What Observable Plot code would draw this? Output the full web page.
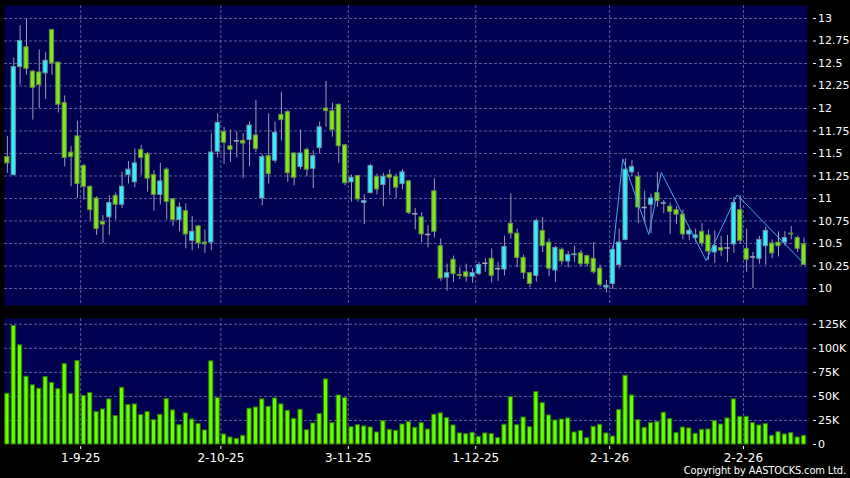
<!DOCTYPE html>
<html><head><meta charset="utf-8">
<script src="https://cdn.jsdelivr.net/npm/d3@7"></script>
<script src="https://cdn.jsdelivr.net/npm/@observablehq/plot@0.6"></script>
<style>
html,body{margin:0;padding:0;background:#000;}
#wrap{position:relative;width:850px;height:478px;background:#000;overflow:hidden;font-family:"DejaVu Sans",sans-serif;}
#top{position:absolute;left:0;top:0;}
#bot{position:absolute;left:0;top:310px;}
#copy{position:absolute;right:4px;top:465px;color:#fff;font-size:11px;line-height:12px;font-family:"DejaVu Sans Condensed","DejaVu Sans",sans-serif;white-space:nowrap;letter-spacing:-0.15px;}
</style></head><body>
<div id="wrap"><div id="top"></div><div id="bot"></div><div id="copy">Copyright by AASTOCKS.com Ltd.</div></div>
<script>
const opens = [11.46,11.26,12.46,12.68,12.41,12.40,12.39,12.87,12.51,12.06,
11.51,11.69,11.36,11.13,11.00,10.74,10.79,11.03,10.93,11.26,
11.18,11.54,11.49,11.26,11.04,11.32,10.99,10.76,10.86,10.53,
10.69,10.51,10.51,11.52,11.74,11.58,11.64,11.64,11.65,11.70,
11.00,11.47,11.42,11.93,11.96,11.50,11.35,11.54,11.33,11.56,
12.00,11.97,12.04,11.59,11.18,11.25,10.95,11.06,11.24,11.15,
11.26,11.24,11.16,11.19,10.83,10.79,10.60,11.08,10.47,10.12,
10.32,10.15,10.18,10.13,10.16,10.28,10.33,10.22,10.21,10.72,
10.61,10.34,10.17,10.14,10.64,10.51,10.20,10.43,10.30,10.37,
10.39,10.36,10.33,10.22,10.01,10.05,10.26,10.54,11.29,11.24,
10.90,10.93,11.06,10.94,10.91,10.87,10.82,10.60,10.56,10.63,
10.59,10.40,10.45,10.45,10.49,10.87,10.44,10.35,10.33,10.47,
10.50,10.51,10.51,10.61,10.56,10.49];
const highs = [11.69,12.56,12.92,12.99,12.42,12.65,12.62,12.88,12.51,12.14,
11.58,11.86,11.38,11.14,11.02,10.81,11.03,11.06,11.29,11.41,
11.55,11.59,11.51,11.31,11.39,11.34,11.00,10.95,10.94,10.80,
10.70,10.65,11.72,11.94,11.79,11.76,11.74,11.72,11.85,12.09,
11.49,11.94,11.85,12.18,11.98,11.51,11.76,11.56,11.53,11.85,
12.30,12.06,12.05,11.60,11.26,11.26,11.04,11.38,11.27,11.28,
11.32,11.27,11.32,11.20,10.89,10.84,10.70,11.22,10.55,10.27,
10.36,10.23,10.27,10.22,10.29,10.33,10.44,10.29,10.58,11.05,
10.66,10.37,10.18,10.77,10.79,10.55,10.47,10.45,10.41,10.47,
10.42,10.37,10.51,10.26,10.09,10.47,10.66,11.44,11.42,11.29,
11.08,11.05,11.29,10.98,10.95,10.91,10.87,10.67,10.66,10.72,
10.65,10.64,10.58,10.59,11.01,11.03,10.66,10.40,10.58,10.68,
10.54,10.63,10.63,10.69,10.58,10.56];
const lows = [11.28,11.25,12.26,12.37,11.87,12.00,12.10,12.37,11.95,11.35,
11.13,11.00,10.98,10.75,10.59,10.50,10.59,10.76,10.89,11.16,
11.12,11.26,11.07,10.86,10.93,10.76,10.69,10.63,10.44,10.42,
10.44,10.39,10.42,11.45,11.38,11.40,11.45,11.22,11.35,11.51,
10.92,11.16,11.39,11.64,11.18,11.14,11.32,11.24,11.11,11.50,
11.79,11.68,11.39,11.14,10.96,10.96,10.71,11.05,11.04,10.91,
11.03,11.00,11.10,10.82,10.65,10.51,10.45,10.56,10.08,9.97,
10.07,10.10,10.07,10.06,10.14,10.18,10.06,10.08,10.14,10.55,
10.23,10.10,10.01,10.07,10.40,10.13,10.07,10.26,10.23,10.29,
10.24,10.24,10.16,10.01,9.95,9.99,10.22,10.53,11.24,10.72,
10.72,10.61,10.90,10.83,10.60,10.71,10.54,10.53,10.51,10.46,
10.31,10.28,10.36,10.29,10.39,10.49,10.18,10.00,10.27,10.26,
10.33,10.35,10.47,10.54,10.40,10.26];
const closes = [11.39,12.46,12.75,12.44,12.23,12.26,12.53,12.50,12.04,11.45,
11.46,11.16,11.13,10.87,10.66,10.71,10.95,10.93,11.13,11.32,
11.39,11.45,11.22,11.04,11.19,10.96,10.76,10.90,10.60,10.63,
10.50,10.49,11.51,11.84,11.62,11.54,11.64,11.61,11.81,11.55,
11.46,11.27,11.73,11.87,11.28,11.23,11.50,11.32,11.47,11.79,
11.97,11.76,11.58,11.17,11.23,10.99,10.97,11.36,11.10,11.24,
11.23,11.12,11.29,10.84,10.83,10.60,10.60,10.63,10.11,10.17,
10.16,10.14,10.13,10.17,10.26,10.28,10.14,10.22,10.46,10.61,
10.34,10.17,10.05,10.75,10.47,10.22,10.45,10.30,10.37,10.38,
10.27,10.27,10.18,10.04,10.03,10.43,10.51,11.32,11.35,10.90,
10.90,11.00,10.97,10.95,10.85,10.82,10.60,10.64,10.59,10.50,
10.41,10.47,10.42,10.45,10.95,10.53,10.32,10.35,10.54,10.64,
10.39,10.47,10.56,10.60,10.44,10.26];
const volumesK = [52.8,123.3,103.1,70.5,61.5,58.0,70.1,63.9,57.6,83.7,
52.4,86.8,50.3,53.5,33.7,36.5,46.9,29.5,59.0,41.0,
41.7,30.6,33.7,25.3,30.9,47.2,35.4,20.1,32.3,26.0,
21.2,14.6,86.5,48.3,10.4,7.3,5.9,9.0,37.2,38.5,
46.9,39.2,47.9,41.7,35.1,26.7,36.1,14.9,21.9,31.6,
67.7,22.2,51.0,48.3,18.0,20.1,18.8,17.7,12.5,24.3,
15.3,14.2,20.8,23.3,17.4,22.2,15.6,30.9,32.3,27.4,
19.8,11.5,10.8,12.2,8.0,11.5,10.8,6.6,20.5,49.3,
20.1,28.1,18.0,54.5,43.0,30.2,25.0,26.0,27.1,12.5,
13.9,6.6,18.4,20.5,11.5,8.3,35.8,71.5,51.0,25.3,
17.4,22.2,23.3,33.0,26.4,11.8,17.7,16.7,11.1,15.3,
15.6,24.3,20.8,27.1,46.9,28.8,28.8,22.2,19.8,21.2,
9.0,12.8,10.4,11.8,7.3,9.0];
const dateLabels = ["1-9-25","2-10-25","3-11-25","1-12-25","2-1-26","2-2-26"];
const dateIndex = [12,34,54,74,95,116];
const priceTicks = [10,10.25,10.5,10.75,11,11.25,11.5,11.75,12,12.25,12.5,12.75,13];
const volumeTicks = [0,25000,50000,75000,100000,125000];
const zigIndex = [95.06,96.57,100.65,102.6,109.65,114.5,125.08];
const zigValue = [10.44,11.44,10.60,11.29,10.31,11.04,10.27];

const candles = opens.map((o,i)=>({i, open:o, high:highs[i], low:lows[i], close:closes[i], vol:volumesK[i]*1000}));
const ups = candles.filter(d=>d.close>d.open);
const downs = candles.filter(d=>d.close<d.open);
const flats = candles.filter(d=>d.close===d.open);
const zig = zigIndex.map((x,k)=>({i:x, v:zigValue[k]}));
const gridPos = dateIndex.map(d=>d-0.5);

const NAVY = "#000050", GRID = "#5c5c98", CYAN = "#33eeff", LIME = "#7ee622";
const xScale = {type:"linear", domain:[-0.45,125.55], range:[4,807], axis:null};
const hw = 0.33;
const style = {background:"transparent", color:"#fff", fontFamily:"DejaVu Sans, sans-serif", fontSize:"11px", overflow:"visible"};

const topChart = Plot.plot({
  width:850, height:310, marginLeft:4, marginRight:43, marginTop:5, marginBottom:5,
  style,
  x: xScale,
  y: {domain:[9.811,13.144], axis:null},
  marks:[
    Plot.frame({fill:NAVY, stroke:null}),
    Plot.gridY(priceTicks, {stroke:GRID, strokeOpacity:1, strokeDasharray:"3,2"}),
    Plot.gridX(gridPos, {stroke:GRID, strokeOpacity:1, strokeDasharray:"3,2"}),
    Plot.axisY(priceTicks, {anchor:"right", tickSize:3, tickPadding:2.5, dx:5, label:null, tickFormat:d=>String(d), stroke:"#fff"}),
    Plot.ruleX(candles, {x:"i", y1:"low", y2:"high", stroke:"#9c9cb4", strokeWidth:1}),
    Plot.rect(ups, {x1:d=>d.i-hw, x2:d=>d.i+hw, y1:"open", y2:"close", fill:CYAN, stroke:"#6a96a4", strokeWidth:1}),
    Plot.rect(downs, {x1:d=>d.i-hw, x2:d=>d.i+hw, y1:"open", y2:"close", fill:LIME, stroke:"#64903c", strokeWidth:1}),
    Plot.ruleY(flats, {x1:d=>d.i-hw-0.08, x2:d=>d.i+hw+0.08, y:"open", stroke:"#a8a8b8", strokeWidth:1.5}),
    Plot.line(zig, {x:"i", y:"v", stroke:"#4aa6ee", strokeWidth:1})
  ]
});
document.getElementById("top").appendChild(topChart);

const botChart = Plot.plot({
  width:850, height:168, marginLeft:4, marginRight:43, marginTop:8, marginBottom:34,
  style,
  x: xScale,
  y: {domain:[0,131000], axis:null},
  marks:[
    Plot.frame({fill:NAVY, stroke:null}),
    Plot.gridY(volumeTicks.slice(1), {stroke:GRID, strokeOpacity:1, strokeDasharray:"3,2"}),
    Plot.gridX(gridPos, {stroke:GRID, strokeOpacity:1, strokeDasharray:"3,2"}),
    Plot.axisY(volumeTicks, {anchor:"right", tickSize:3, tickPadding:2.5, dx:5, label:null, tickFormat:d=>d===0?"0":(d/1000)+"K", stroke:"#fff"}),
    Plot.axisX(gridPos, {anchor:"bottom", tickSize:3, tickPadding:4, dy:2, label:null, fontSize:12, tickFormat:d=>dateLabels[dateIndex.indexOf(d+0.5)], stroke:"#fff"}),
    Plot.rectY(candles, {x1:d=>d.i-hw, x2:d=>d.i+hw, y:"vol", fill:"#66ff00", stroke:"#2e7a00", strokeWidth:1})
  ]
});
document.getElementById("bot").appendChild(botChart);
</script>
</body></html>
